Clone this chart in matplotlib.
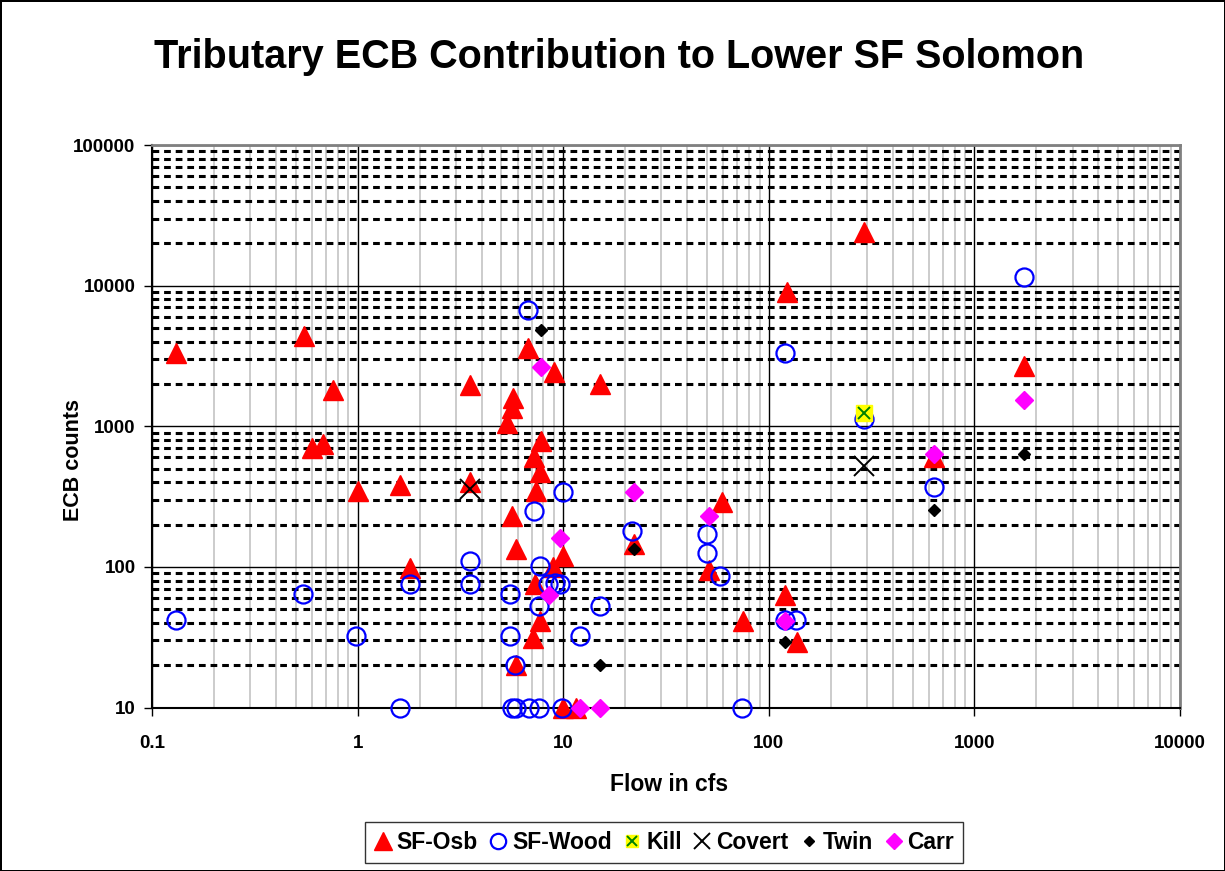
# Tributary ECB contribution scatter (log-log)
import matplotlib
matplotlib.use('Agg')
import matplotlib.pyplot as plt
from matplotlib.ticker import LogLocator, FixedLocator, FuncFormatter, NullFormatter
from matplotlib.legend_handler import HandlerTuple

plt.rcParams['font.family'] = ['Liberation Sans', 'DejaVu Sans']
plt.rcParams['font.weight'] = 'bold'

# SF-Osb (red triangles)
osb_x = [0.13, 0.55, 0.60, 0.68, 0.76, 1.0, 1.6, 1.8, 3.5, 3.5, 5.3, 5.6, 5.7, 5.6, 5.9, 5.9,
         6.7, 7.2, 7.4, 7.7, 7.8, 9.0, 8.9, 10, 7.3, 7.7, 7.1, 10, 11.5, 15, 22, 51, 59, 75,
         120, 137, 122, 290, 636, 1750]
osb_y = [3300, 4400, 700, 750, 1800, 345, 380, 98, 1950, 400, 1050, 1350, 1600, 230, 133, 20,
         3600, 600, 345, 470, 780, 2450, 100, 120, 75, 41, 31, 10, 10, 2000, 145, 95, 290, 41,
         63, 29, 9000, 24000, 600, 2700]

# SF-Wood (blue open circles)
wood_x = [0.13, 0.54, 0.98, 1.6, 1.8, 3.5, 3.5, 5.5, 5.5, 5.8, 5.65, 5.9, 6.8, 7.6, 9.9,
          6.7, 7.2, 7.7, 7.6, 8.4, 9.1, 9.6, 10, 12, 15, 21.5, 50, 50, 58, 74, 120, 135,
          120, 290, 636, 1750]
wood_y = [42, 64, 32, 10, 75, 110, 75, 64, 32, 20, 10, 10, 10, 10, 10,
          6700, 250, 102, 53, 76, 77, 75, 340, 32, 53, 180, 172, 125, 86, 10, 42, 42,
          3300, 1120, 370, 11500]

# Kill
kill_x = [290]
kill_y = [1250]

# Covert
covert_x = [3.5, 290]
covert_y = [360, 520]

# Twin (black diamonds)
twin_x = [7.8, 15, 22, 120, 636, 1750]
twin_y = [4800, 20, 135, 29, 255, 630]

# Carr (magenta diamonds)
carr_x = [7.8, 9.6, 8.5, 12, 15, 22, 51, 120, 636, 1750]
carr_y = [2650, 160, 63, 10, 10, 340, 230, 41, 640, 1550]

x_ticks = [0.1, 1, 10, 100, 1000, 10000]
y_ticks = [10, 100, 1000, 10000, 100000]

fig = plt.figure(figsize=(12.25, 8.71), dpi=100)
fig.patch.set_edgecolor('black')
fig.patch.set_linewidth(2)
ax = fig.add_axes([0.1243, 0.1877, 0.839, 0.6458])

ax.set_xscale('log')
ax.set_yscale('log')
ax.set_xlim(0.1, 10000)
ax.set_ylim(10, 100000)

h_osb, = ax.plot(osb_x, osb_y, ls='none', marker='^', ms=15, mfc='red', mec='red',
                 clip_on=False, zorder=3)
h_wood, = ax.plot(wood_x, wood_y, ls='none', marker='o', ms=13, mfc='none', mec='#0000ff',
                  mew=1.6, clip_on=False, zorder=4)
h_kill_s, = ax.plot(kill_x, kill_y, ls='none', marker='s', ms=11, mfc='yellow', mec='yellow',
                    zorder=5)
h_kill_x, = ax.plot(kill_x, kill_y, ls='none', marker='x', ms=9, mec='green', mew=1.4, zorder=6)
h_cov, = ax.plot(covert_x, covert_y, ls='none', marker='x', ms=14, mec='black', mew=1.4,
                 zorder=6)
h_twin, = ax.plot(twin_x, twin_y, ls='none', marker='D', ms=6, mfc='black', mec='black',
                  clip_on=False, zorder=7)
h_carr, = ax.plot(carr_x, carr_y, ls='none', marker='D', ms=9, mfc='#ff00ff', mec='#ff00ff',
                  clip_on=False, zorder=8)

# grid: x minor gray, y minor dashed black, majors solid black
ax.xaxis.set_minor_locator(LogLocator(base=10, subs=range(2, 10), numticks=20))
ax.yaxis.set_minor_locator(LogLocator(base=10, subs=range(2, 10), numticks=20))
ax.grid(True, which='minor', axis='x', color='#c4c4c4', lw=1.2, ls='-', zorder=0)
ax.grid(True, which='minor', axis='y', color='black', lw=2.2, ls=(0, (2.2, 1.6)), zorder=1)
ax.grid(True, which='major', axis='both', color='black', lw=1.0, ls='-', zorder=1)
ax.set_axisbelow(True)

ax.xaxis.set_major_locator(FixedLocator(x_ticks))
ax.yaxis.set_major_locator(FixedLocator(y_ticks))
ax.xaxis.set_major_formatter(FuncFormatter(lambda v, p: f'{v:g}'))
ax.yaxis.set_major_formatter(FuncFormatter(lambda v, p: f'{v:.0f}'))
ax.xaxis.set_minor_formatter(NullFormatter())
ax.yaxis.set_minor_formatter(NullFormatter())
ax.tick_params(which='major', length=6, width=1, labelsize=13.5, direction='out', pad=6)
ax.tick_params(axis='x', which='major', pad=14)
ax.tick_params(which='minor', length=0)

for s in ['left', 'bottom']:
    ax.spines[s].set_color('black')
    ax.spines[s].set_linewidth(1.5)
for s in ['top', 'right']:
    ax.spines[s].set_color('#808080')
    ax.spines[s].set_linewidth(2)

ax.set_xlabel('Flow in cfs', fontsize=16.5, fontweight='bold')
ax.set_ylabel('ECB counts', fontsize=15.5, fontweight='bold')
ax.xaxis.set_label_coords(0.503, -0.117)
ax.yaxis.set_label_coords(-0.066, 0.44)
fig.text(0.505, 0.934, 'Tributary ECB Contribution to Lower SF Solomon', ha='center',
         va='center', fontsize=28.5, fontweight='bold')

leg = fig.legend([h_osb, h_wood, (h_kill_s, h_kill_x), h_cov, h_twin, h_carr],
                 ['SF-Osb', 'SF-Wood', 'Kill', 'Covert', 'Twin', 'Carr'],
                 loc='center', bbox_to_anchor=(0.542, 0.033), ncol=6, frameon=True,
                 fancybox=False, edgecolor='black', handlelength=0.8, markerscale=0.85,
                 handletextpad=0.2, columnspacing=0.5, borderpad=0.4,
                 handler_map={tuple: HandlerTuple(ndivide=1)},
                 prop={'weight': 'bold', 'size': 16.5})
leg.get_frame().set_linewidth(1.0)

fig.savefig('out.png', dpi=100, edgecolor=fig.get_edgecolor())
